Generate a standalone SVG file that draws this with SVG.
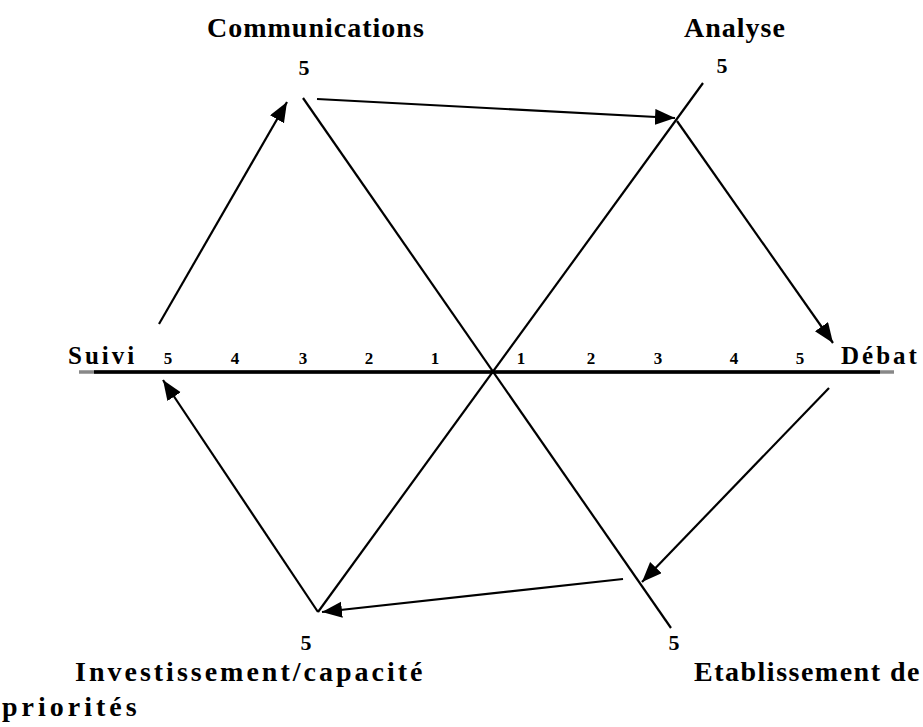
<svg xmlns="http://www.w3.org/2000/svg" width="923" height="727" viewBox="0 0 923 727">
  <style>
    .lbl { font-family: "Liberation Serif", "Times New Roman", serif; font-weight: bold; fill: #000; }
    .head { font-size: 28px; letter-spacing: 1px; }
    .foot { font-size: 28px; }
    .side { font-size: 25px; letter-spacing: 3px; }
    .num { font-size: 22px; text-anchor: middle; }
    .tick { font-size: 17px; text-anchor: middle; }
    .spoke { stroke: #000; stroke-width: 2.2; fill: none; }
    .arrow { stroke: #000; stroke-width: 2.2; fill: none; marker-end: url(#head); }
  </style>
  <defs>
    <marker id="head" markerUnits="userSpaceOnUse" markerWidth="22" markerHeight="18" refX="20" refY="8" orient="auto">
      <path d="M0,0 L20,8 L0,16 z" fill="#000"/>
    </marker>
  </defs>
  <rect width="923" height="727" fill="#fff"/>

  <!-- scale axis and the two diagonals through the centre -->
  <g id="axes">
    <line x1="79" y1="372" x2="894" y2="372" stroke="#888" stroke-width="3.5"/>
    <line x1="94" y1="372" x2="880" y2="372" stroke="#000" stroke-width="3.5"/>
    <line class="spoke" x1="703" y1="83" x2="318" y2="612"/>
    <line class="spoke" x1="303" y1="98" x2="671" y2="628"/>
    <g class="lbl tick">
      <text x="168" y="364">5</text>
      <text x="235" y="364">4</text>
      <text x="303" y="364">3</text>
      <text x="369" y="364">2</text>
      <text x="435" y="364">1</text>
      <text x="521" y="364">1</text>
      <text x="591" y="364">2</text>
      <text x="658" y="364">3</text>
      <text x="734" y="364">4</text>
      <text x="800" y="364">5</text>
    </g>
  </g>

  <!-- cycle connectors -->
  <g id="connectors">
    <line class="arrow" x1="159" y1="324" x2="287" y2="102"/>
    <line class="arrow" x1="317" y1="99" x2="675" y2="118"/>
    <line class="arrow" x1="677" y1="121" x2="833" y2="343"/>
    <line class="arrow" x1="829" y1="388" x2="642" y2="582"/>
    <line class="arrow" x1="623" y1="579" x2="322" y2="612"/>
    <line class="arrow" x1="318" y1="612" x2="163" y2="380"/>
  </g>

  <g id="communications" class="lbl">
    <text class="head" x="207" y="37">Communications</text>
    <text class="num" x="304" y="75">5</text>
  </g>
  <g id="analyse" class="lbl">
    <text class="head" x="684" y="37" letter-spacing="2">Analyse</text>
    <text class="num" x="722" y="73">5</text>
  </g>
  <g id="debat" class="lbl">
    <text class="side" x="841" y="364">Débat</text>
  </g>
  <g id="etablissement" class="lbl">
    <text class="num" x="674" y="650">5</text>
    <text class="foot" x="694" y="681" letter-spacing="1.5">Etablissement de</text>
    <text class="foot" x="2" y="716" letter-spacing="4">priorités</text>
  </g>
  <g id="investissement" class="lbl">
    <text class="num" x="306" y="650">5</text>
    <text class="foot" x="75" y="681" letter-spacing="3">Investissement/capacité</text>
  </g>
  <g id="suivi" class="lbl">
    <text class="side" x="68" y="364">Suivi</text>
  </g>
</svg>
